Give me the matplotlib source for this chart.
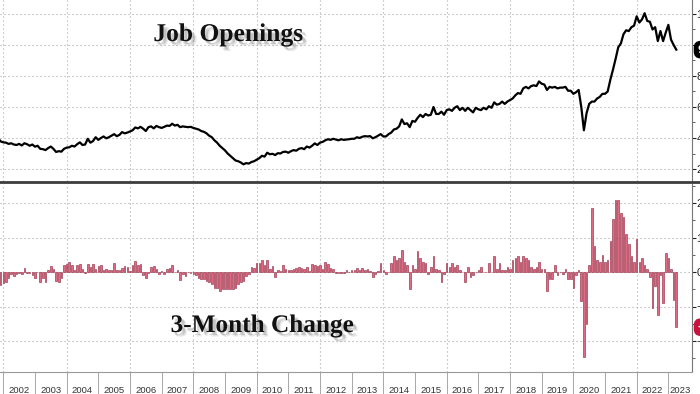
import numpy as np
import matplotlib
matplotlib.use("Agg")
import matplotlib.pyplot as plt
from matplotlib import patheffects as pe
from matplotlib.lines import Line2D
import matplotlib.ticker as mticker

# ---------------- data (millions, monthly, seasonally adjusted) ----------------
start_year, start_month = 2001, 8   # first value = Aug 2001
openings = [
    4.15, 4.05, 4.00, 3.78, 3.72,                                        # 2001 Aug-Dec
    3.70, 3.62, 3.66, 3.58, 3.55, 3.62, 3.52, 3.66, 3.60, 3.50, 3.58, 3.44,  # 2002
    3.50, 3.30, 3.28, 3.22, 3.35, 3.45, 3.30, 3.10, 3.15, 3.12, 3.30, 3.38,  # 2003
    3.40, 3.50, 3.45, 3.60, 3.72, 3.55, 3.58, 3.95, 3.70, 3.80, 4.05, 3.88,  # 2004
    4.00, 4.10, 3.98, 4.05, 4.15, 4.25, 4.12, 4.20, 4.38, 4.30, 4.35, 4.42,  # 2005
    4.50, 4.68, 4.62, 4.72, 4.60, 4.45, 4.70, 4.75, 4.62, 4.78, 4.70, 4.65,  # 2006
    4.72, 4.80, 4.78, 4.92, 4.80, 4.85, 4.70, 4.75, 4.72, 4.70, 4.72, 4.65,  # 2007
    4.60, 4.55, 4.45, 4.40, 4.30, 4.15, 4.05, 3.85, 3.70, 3.50, 3.35, 3.20,  # 2008
    3.00, 2.85, 2.70, 2.55, 2.50, 2.42, 2.30, 2.38, 2.35, 2.45, 2.50, 2.60,  # 2009
    2.70, 2.85, 2.80, 3.05, 2.95, 2.98, 2.90, 3.02, 3.00, 3.10, 3.12, 3.05,  # 2010
    3.15, 3.22, 3.18, 3.30, 3.35, 3.28, 3.45, 3.38, 3.50, 3.65, 3.55, 3.70,  # 2011
    3.75, 3.85, 3.92, 3.88, 3.95, 3.90, 3.85, 3.92, 3.88, 3.90, 3.92, 3.95,  # 2012
    3.95, 4.05, 4.00, 4.08, 4.12, 4.10, 4.12, 3.98, 4.05, 4.15, 4.25, 4.10,  # 2013
    4.10, 4.25, 4.35, 4.55, 4.60, 4.75, 5.20, 4.90, 4.95, 4.70, 5.10, 5.05,  # 2014
    5.30, 5.50, 5.35, 5.55, 5.45, 5.50, 6.00, 5.55, 5.55, 5.70, 5.50, 5.80,  # 2015
    5.85, 5.75, 5.95, 6.05, 5.80, 5.95, 5.75, 5.95, 5.80, 5.65, 5.95, 5.85,  # 2016
    5.80, 5.95, 5.85, 6.05, 5.95, 6.30, 6.15, 6.20, 6.35, 6.20, 6.35, 6.45,  # 2017
    6.55, 6.75, 6.90, 6.85, 7.20, 7.30, 7.20, 7.35, 7.40, 7.35, 7.65, 7.50,  # 2018
    7.45, 7.10, 7.30, 7.25, 7.30, 7.20, 7.25, 7.25, 7.30, 7.05, 7.05, 6.85,  # 2019
    6.95, 7.10, 6.00, 4.50, 5.60, 6.20, 6.35, 6.35, 6.55, 6.65, 6.85, 6.85,  # 2020
    7.00, 7.75, 8.40, 9.10, 9.85, 10.10, 10.70, 10.95, 10.90, 11.15, 11.25, 11.85,  # 2021
    11.45, 11.65, 12.05, 11.55, 11.50, 11.00, 11.15, 10.25, 10.90, 10.25, 10.80, 11.30,  # 2022
    10.35, 10.00, 9.70,                                                  # 2023 Jan-Mar
]
year_labels = [str(y) for y in range(2002, 2024)]
top_ticks = [2, 4, 6, 8, 10, 12]
bottom_ticks = [-2, -1, 0, 1, 2]
title_top = "Job Openings"
title_bottom = "3-Month Change"

# ---------------- derived ----------------
lev = np.array(openings, dtype=float)
n = len(lev)
t = np.array([start_year + (start_month + i) / 12.0 for i in range(n)])  # month-end
chg = np.full(n, np.nan)
chg[3:] = lev[3:] - lev[:-3]

# ---------------- figure ----------------
W, H = 700, 394
fig = plt.figure(figsize=(7.0, 3.94), dpi=100)
fig.patch.set_facecolor("white")


def fy(px):
    return 1 - px / H


ax_right_px = 692
ax1 = fig.add_axes([0, fy(181), ax_right_px / W, 181 / H])
ax2 = fig.add_axes([0, fy(372), ax_right_px / W, (372 - 184) / H])

px_per_year = 31.67
x_left = 2002 - 3.3 / px_per_year
x_right = 2002 + (ax_right_px - 3.3) / px_per_year

grid_kw = dict(color="#a8a8a8", linestyle=(0, (1, 2.6)), linewidth=0.8)
tickfont = ["Liberation Sans Narrow", "Liberation Sans", "DejaVu Sans"]

for ax in (ax1, ax2):
    ax.set_xlim(x_left, x_right)
    for s in ("top", "left"):
        ax.spines[s].set_visible(False)
    ax.spines["right"].set_color("#777777")
    ax.spines["right"].set_linewidth(0.8)
    ax.yaxis.tick_right()
    ax.tick_params(axis="y", which="major", direction="out", length=3.0,
                   width=0.8, colors="#222222", labelsize=8, pad=0.3)
    ax.tick_params(axis="y", which="minor", direction="out", length=2.0,
                   width=0.6, colors="#444444")
    ax.grid(axis="y", which="major", **grid_kw)
    for y in range(2002, 2024, 2):
        ax.axvline(y, zorder=0, **grid_kw)
    for lab in ax.get_yticklabels():
        lab.set_family(tickfont)
    ax.set_axisbelow(True)

# top panel: level line
ax1.plot(t, lev, color="black", linewidth=1.6, solid_joinstyle="round", zorder=3)
ax1.set_ylim(12 - (181 - 14) / 15.5, 12 + 14 / 15.5)
ax1.set_yticks(top_ticks)
ax1.yaxis.set_minor_locator(mticker.MultipleLocator(1))
ax1.spines["bottom"].set_visible(False)
ax1.set_xticks([])

# bottom panel: 3-month change bars
ax2.bar(t, chg, width=1 / 12 * 0.6, color="#e06a82", edgecolor="#8e1f3a",
        linewidth=0.4, zorder=3)
ax2.set_ylim(-(372 - 272) / 34.5, (272 - 184) / 34.5)
ax2.set_yticks(bottom_ticks)
ax2.yaxis.set_minor_locator(mticker.MultipleLocator(0.5))
ax2.spines["bottom"].set_color("#9a9a9a")
ax2.spines["bottom"].set_linewidth(0.8)

# x axis: year separators (major) and centred labels (minor)
yrs = np.arange(2002, 2024)
ax2.set_xticks(yrs)
ax2.set_xticklabels([""] * len(yrs))
mids = [min(y + 1, x_right) * 0.5 + y * 0.5 for y in yrs]
ax2.set_xticks(mids, minor=True)
ax2.set_xticklabels(year_labels, minor=True)
ax2.tick_params(axis="x", which="major", direction="out", length=16,
                width=0.6, colors="#9a9a9a")
ax2.tick_params(axis="x", which="minor", length=0, pad=10.2,
                labelsize=6.8, labelcolor="#333333")
for lab in ax2.get_xticklabels(minor=True):
    lab.set_family(tickfont)

# separator between panels
fig.add_artist(Line2D([0, 1], [fy(181.8), fy(181.8)], color="#3c3c3c",
                      linewidth=2.0, transform=fig.transFigure))

# value tags on the right edge
ax1.annotate(f"{lev[-1]:.2f}", xy=(1, lev[-1]), xycoords=("axes fraction", "data"),
             xytext=(4, 0), textcoords="offset points", ha="left", va="center",
             color="white", fontsize=7.5, fontweight="bold",
             bbox=dict(boxstyle="round,pad=0.3,rounding_size=0.6", fc="black", ec="black"),
             annotation_clip=False)
ax2.annotate(f"{chg[-1]:.2f}", xy=(1, chg[-1]), xycoords=("axes fraction", "data"),
             xytext=(4, 0), textcoords="offset points", ha="left", va="center",
             color="white", fontsize=7.5, fontweight="bold",
             bbox=dict(boxstyle="round,pad=0.3,rounding_size=0.6", fc="#c8143c", ec="#c8143c"),
             annotation_clip=False)

# titles with drop shadow
shadow = [pe.SimplePatchShadow(offset=(3.2, -3.2), shadow_rgbFace="0.55", alpha=0.22),
          pe.SimplePatchShadow(offset=(2.2, -2.2), shadow_rgbFace="0.45", alpha=0.3),
          pe.Normal()]
serif = ["Liberation Serif", "DejaVu Serif"]
fig.text(228 / W, fy(41), title_top, ha="center", va="baseline", family=serif,
         fontweight="bold", fontsize=18.4, color="#111111", path_effects=shadow)
fig.text(262 / W, fy(332), title_bottom, ha="center", va="baseline", family=serif,
         fontweight="bold", fontsize=18.2, color="#111111", path_effects=shadow)

fig.savefig("out.png", dpi=100, facecolor="white")
